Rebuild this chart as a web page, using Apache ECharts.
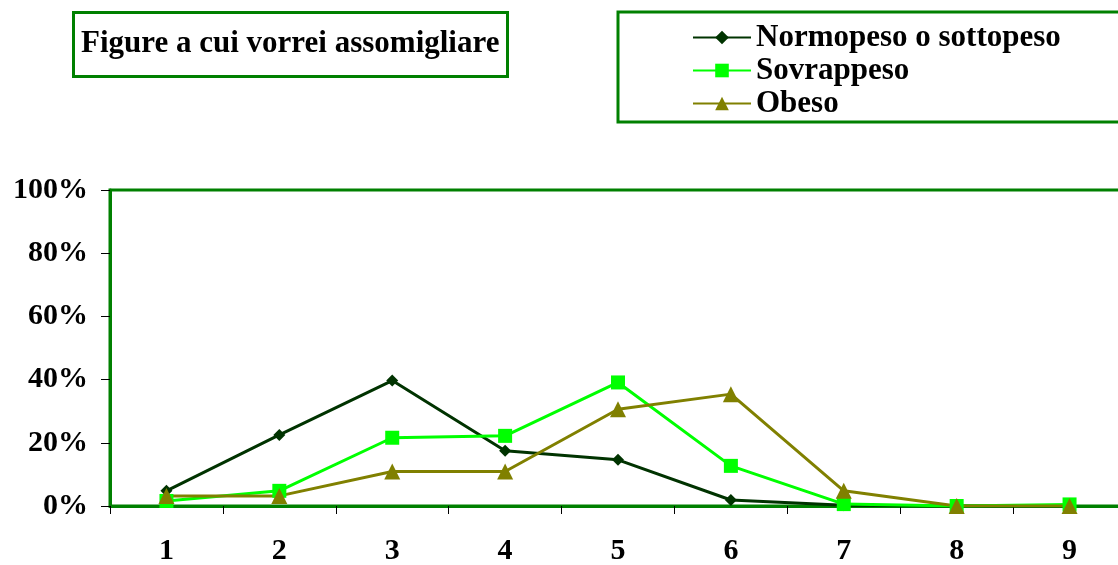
<!DOCTYPE html>
<html>
<head>
<meta charset="utf-8">
<script src="https://cdn.jsdelivr.net/npm/echarts@6/dist/echarts.min.js"></script>
<style>
  html, body { margin: 0; padding: 0; background: #fff; }
  #chart { width: 1118px; height: 565px; }
</style>
</head>
<body>
<div id="chart"></div>
<script>
// Categories along the x axis
const categories = ['1', '2', '3', '4', '5', '6', '7', '8', '9'];

// Share of answers per category (percent)
const normopeso = [4.8, 22.5, 39.7, 17.5, 14.6, 1.9, 0.2, 0, 0];
const sovrappeso = [1.6, 4.8, 21.6, 22.2, 39.1, 12.7, 0.6, 0, 0.5];
const obeso = [3.2, 3.2, 10.9, 10.9, 30.6, 35.4, 4.8, 0, 0];

const seriesNames = ['Normopeso o sottopeso', 'Sovrappeso', 'Obeso'];
const titleText = 'Figure a cui vorrei assomigliare';

const FONT = '"Liberation Serif", "Times New Roman", serif';
const FRAME = '#008000';

const chart = echarts.init(document.getElementById('chart'), null, { renderer: 'canvas' });

function lineSeries(name, data, color, symbol, size) {
  return {
    name: name,
    type: 'line',
    data: data,
    symbol: symbol,
    symbolSize: size,
    showAllSymbol: true,
    lineStyle: { color: color, width: 3 },
    itemStyle: { color: color },
    emphasis: { disabled: true },
    z: 3
  };
}

chart.setOption({
  animation: false,
  backgroundColor: '#ffffff',
  title: {
    text: titleText,
    left: 73,
    top: 12,
    padding: [15, 8, 16, 8],
    borderColor: FRAME,
    borderWidth: 3,
    textStyle: {
      fontFamily: FONT,
      fontWeight: 'bold',
      fontSize: 31,
      lineHeight: 34,
      color: '#000'
    }
  },
  legend: {
    orient: 'vertical',
    left: 618,
    top: 12,
    padding: [10, 300, 3, 74],
    borderColor: FRAME,
    borderWidth: 3,
    itemWidth: 58,
    itemHeight: 17,
    itemGap: 2,
    selectedMode: false,
    data: seriesNames,
    textStyle: {
      fontFamily: FONT,
      fontWeight: 'bold',
      fontSize: 31,
      lineHeight: 31,
      color: '#000'
    }
  },
  grid: {
    left: 110,
    width: 1016,
    top: 190,
    height: 316,
    outerBoundsMode: 'none',
    containLabel: false,
    show: true,
    borderColor: FRAME,
    borderWidth: 3,
    backgroundColor: 'transparent'
  },
  xAxis: {
    type: 'category',
    data: categories,
    boundaryGap: true,
    axisLine: { show: true, lineStyle: { color: FRAME, width: 3 } },
    axisTick: { show: true, inside: false, length: 8, alignWithLabel: false, lineStyle: { color: '#000', width: 1 } },
    axisLabel: {
      margin: 30,
      fontFamily: FONT,
      fontWeight: 'bold',
      fontSize: 30,
      color: '#000'
    },
    splitLine: { show: false }
  },
  yAxis: {
    type: 'value',
    min: 0,
    max: 100,
    interval: 20,
    axisLine: { show: true, lineStyle: { color: FRAME, width: 3 } },
    axisTick: { show: true, length: 9, lineStyle: { color: '#000', width: 1 } },
    axisLabel: {
      margin: 22,
      formatter: '{value}%',
      fontFamily: FONT,
      fontWeight: 'bold',
      fontSize: 30,
      color: '#000'
    },
    splitLine: { show: false }
  },
  series: [
    lineSeries(seriesNames[0], normopeso, '#003300', 'diamond', 12),
    lineSeries(seriesNames[1], sovrappeso, '#00FF00', 'rect', 14),
    lineSeries(seriesNames[2], obeso, '#808000', 'triangle', 16)
  ]
});
</script>
</body>
</html>
